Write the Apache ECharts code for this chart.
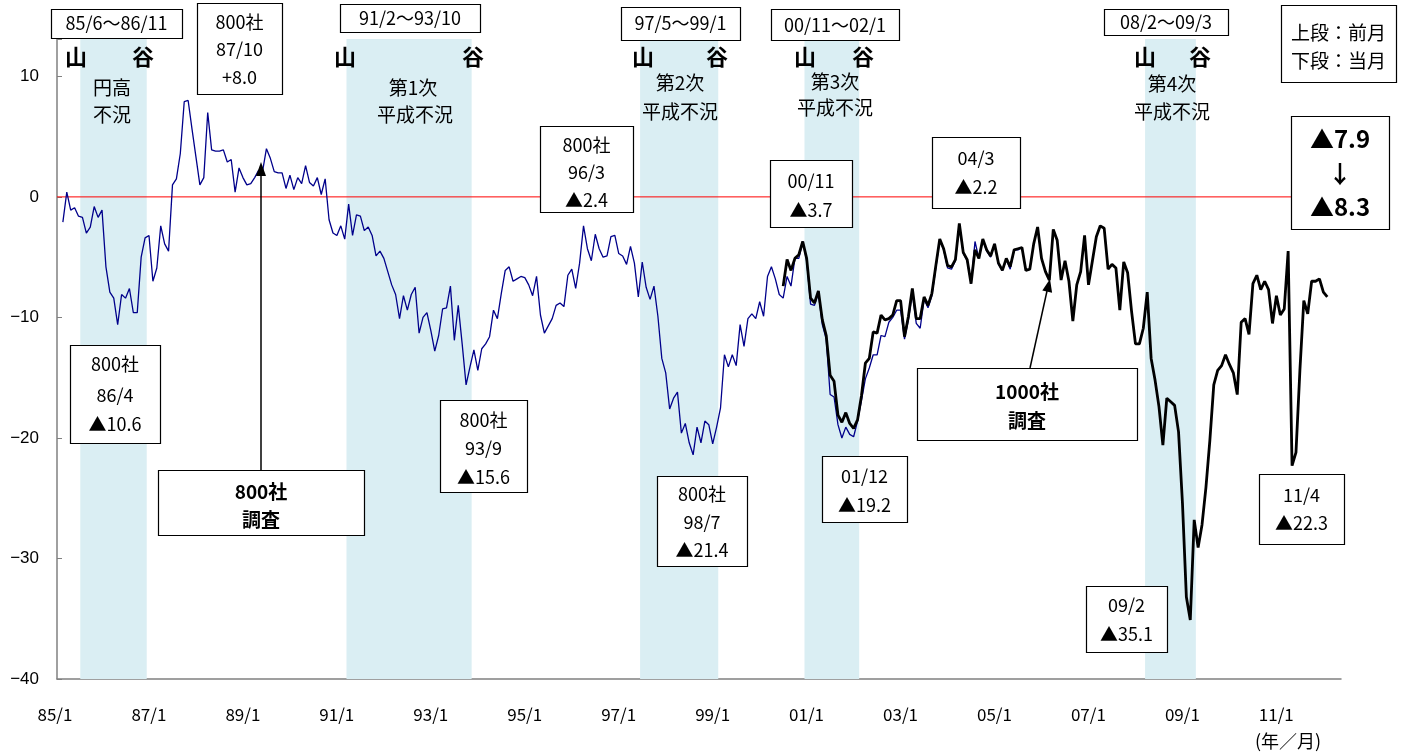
<!DOCTYPE html>
<html><head><meta charset="utf-8">
<script src="https://cdn.jsdelivr.net/npm/echarts@6/dist/echarts.min.js"></script>
<style>html,body{margin:0;padding:0;background:#fff}#c{width:1408px;height:753px}</style>
</head><body><div id="c"></div>
<script>
// ---- axis categories (monthly, 85/1 .. 12/4) ----
const firstYear = 1985;
const monthCount = 328;
const categories = [];
for (let i = 0; i < monthCount; i++) {
  categories.push(String((firstYear + Math.floor(i / 12)) % 100).padStart(2, '0') + '/' + (i % 12 + 1));
}
const yTickValues = [-40, -30, -20, -10, 0, 10];

// ---- 800社調査 (thin navy), from 85/2 ----
const survey800Start = '85/2';
const survey800 = [
  -2.1, 0.4, -1.1, -0.9, -1.6, -1.7, -3.0, -2.5, -0.8, -1.7, -1.1,           // 85/2-85/12
  -5.8, -7.9, -8.4, -10.6, -8.1, -8.4, -7.6, -9.6, -9.6, -5.0, -3.4, -3.2,   // 86
  -7.0, -5.9, -2.4, -3.9, -4.5, 1.0, 1.5, 3.6, 7.9, 8.0, 5.6, 3.3,           // 87
  1.0, 1.6, 7.0, 3.9, 3.8, 3.8, 3.9, 2.9, 3.1, 0.4, 2.4, 1.6,                // 88
  1.0, 1.1, 1.6, 2.2, 2.1, 4.0, 3.2, 2.1, 2.0, 2.0, 0.7, 1.8,                // 89
  0.6, 1.6, 1.1, 2.6, 1.2, 0.9, 1.6, 0.2, 1.5, -1.9, -3.0, -3.2,             // 90
  -2.4, -3.5, -0.6, -3.2, -1.5, -1.6, -2.8, -2.5, -3.2, -4.9, -4.5, -5.1,    // 91
  -6.2, -7.3, -8.1, -10.1, -8.2, -9.4, -8.1, -7.5, -11.3, -10.0, -9.6, -11.1,// 92
  -12.8, -11.5, -9.3, -9.2, -7.4, -11.9, -9.0, -12.2, -15.6, -14.1, -12.7, -14.4, // 93
  -12.6, -12.2, -11.6, -9.4, -10.1, -8.0, -6.1, -5.8, -7.0, -6.8, -6.6, -6.7,// 94
  -7.3, -8.2, -6.6, -9.8, -11.3, -10.7, -10.1, -9.0, -8.8, -9.1, -6.5, -6.0, // 95
  -7.6, -5.5, -2.4, -4.3, -5.3, -3.1, -4.3, -5.0, -4.9, -3.3, -3.2, -4.7,    // 96
  -4.9, -5.6, -4.1, -5.5, -8.3, -5.4, -7.5, -8.5, -7.4, -9.9, -13.4, -14.6,  // 97
  -17.6, -16.7, -16.2, -19.6, -18.8, -20.4, -21.4, -19.1, -20.4, -18.6, -18.9, -20.5, // 98
  -19.1, -17.5, -13.1, -14.1, -13.1, -14.0, -10.6, -12.4, -10.1, -9.7, -10.1, -8.7,  // 99
  -9.9, -6.6, -5.8, -6.8, -8.1, -8.4, -6.6, -7.4, -5.1, -5.1, -3.7, -5.3,    // 00
  -8.9, -9.0, -8.0, -10.6, -11.8, -16.4, -16.6, -18.9, -20.0, -19.1, -19.7, -19.9, // 01
  -18.6, -16.9, -15.1, -14.2, -13.1, -13.1, -11.5, -11.6, -10.4, -10.0, -9.4, -9.4, // 02
  -11.8, -10.2, -8.0, -10.5, -10.9, -8.5, -9.2, -8.2, -5.9, -3.6, -4.4, -5.9,// 03
  -6.0, -5.3, -2.3, -4.7, -5.3, -7.2, -3.7, -5.1, -3.6, -4.5, -5.0, -3.9,    // 04
  -5.6, -6.1, -5.2, -6.0, -4.4, -4.4, -4.2                                   // 05/1-05/7
];

// ---- 1000社調査 (thick black), from 00/6 ----
const survey1000Start = '00/6';
const survey1000 = [
  -7.4, -5.2, -6.1, -5.1, -4.8, -3.7, -5.1,                                  // 00/6-00/12
  -8.4, -8.8, -7.8, -10.2, -11.5, -14.8, -15.3, -18.1, -18.7, -17.9, -18.8, -19.2, // 01
  -18.5, -16.5, -13.8, -13.4, -11.2, -11.3, -9.8, -10.2, -10.1, -9.8, -8.6, -8.6,  // 02
  -11.6, -9.9, -7.6, -10.1, -10.1, -8.3, -9.0, -8.0, -5.7, -3.5, -4.3, -5.7, // 03
  -5.8, -5.2, -2.2, -4.6, -5.2, -7.2, -4.4, -5.1, -3.5, -4.4, -4.9, -3.9,    // 04
  -5.5, -6.1, -5.1, -5.8, -4.4, -4.3, -4.2, -6.1, -6.0, -3.9, -2.5, -5.1,    // 05
  -6.2, -6.9, -2.7, -3.6, -6.9, -5.3, -7.0, -10.3, -7.3, -6.2, -3.2, -7.3,   // 06
  -5.3, -3.3, -2.4, -2.6, -6.0, -5.6, -5.9, -9.4, -5.4, -6.3, -9.5, -12.2,   // 07
  -12.2, -10.9, -7.9, -13.4, -15.2, -17.4, -20.6, -16.7, -17.0, -17.3, -19.5, -25.4, // 08
  -33.2, -35.1, -26.8, -29.1, -27.2, -24.1, -20.2, -15.6, -14.4, -14.0, -13.1, -13.9, // 09
  -14.6, -16.4, -10.4, -10.1, -11.4, -7.2, -6.5, -7.7, -7.0, -7.7, -10.5, -8.2,     // 10
  -9.8, -9.3, -4.5, -22.3, -21.2, -14.4, -8.6, -9.7, -7.0, -7.0, -6.8, -7.9, // 11
  -8.3                                                                       // 12/1
];

// ---- recession periods (山 → 谷) ----
const recessionStart = ['85/6', '91/2', '97/5', '00/11', '08/2'];
const recessionEnd   = ['86/11', '93/10', '99/1', '02/1', '09/3'];

function toPairs(start, vals) {
  const s = categories.indexOf(start);
  return vals.map((v, k) => [s + k, v]);
}

const FONT = '"Noto Sans CJK JP", "Noto Sans", sans-serif';
const G = [];
function txt(x, y, s, size, bold) {
  G.push({ type: 'text', z: 100, silent: true,
    style: { x: x, y: y, text: s, align: 'center', verticalAlign: 'middle',
      font: (bold ? 'bold ' : '') + size + 'px ' + FONT, fill: '#000' } });
}
function box(x, y, w, h, lines, size, bold) {
  G.push({ type: 'rect', z: 99, silent: true, shape: { x: x + 0.5, y: y + 0.5, width: w, height: h },
    style: { fill: '#fff', stroke: '#000', lineWidth: 1.2 } });
  lines.forEach(l => txt(x + w / 2, l[1], l[0], size, bold));
}
// period boxes
box(51, 9, 131, 29, [['85/6～86/11', 23]], 18);
box(340, 4, 140, 28, [['91/2～93/10', 18]], 18);
box(621, 7, 119, 33, [['97/5～99/1', 23]], 18);
box(771, 9, 128, 31, [['00/11～02/1', 25]], 18);
box(1104, 9, 124, 26, [['08/2～09/3', 22]], 18);
// value boxes
box(197, 3, 85, 91, [['800社', 22], ['87/10', 49], ['+8.0', 77]], 18);
box(1281, 5, 115, 77, [['上段：前月', 33], ['下段：当月', 61]], 19);
box(1291, 116, 98, 113, [['▲7.9', 139], ['↓', 174], ['▲8.3', 207]], 24, true);
box(70, 345, 90, 98, [['800社', 364], ['86/4', 395], ['▲10.6', 424]], 18);
box(158, 470, 206, 65, [['800社', 492], ['調査', 520]], 19, true);
box(440, 400, 87, 92, [['800社', 420], ['93/9', 448], ['▲15.6', 477]], 18);
box(540, 126, 93, 86, [['800社', 145], ['96/3', 172], ['▲2.4', 200]], 18);
box(657, 476, 90, 90, [['800社', 494], ['98/7', 522], ['▲21.4', 550]], 18);
box(770, 160, 82, 67, [['00/11', 181], ['▲3.7', 210]], 18);
box(822, 456, 85, 66, [['01/12', 476], ['▲19.2', 505]], 18);
box(932, 137, 88, 71, [['04/3', 158], ['▲2.2', 187]], 18);
box(917, 368, 220, 72, [['1000社', 392], ['調査', 421]], 19, true);
box(1086, 586, 81, 66, [['09/2', 605], ['▲35.1', 634]], 18);
box(1259, 474, 85, 70, [['11/4', 495], ['▲22.3', 523]], 18);
// band labels
[[76, 143], [345, 473], [643, 717], [805, 863], [1145, 1200]].forEach(p => { txt(p[0], 57, '山', 22, true); txt(p[1], 57, '谷', 22, true); });
txt(112, 88, '円高', 19); txt(112, 115, '不況', 19);
txt(413, 88, '第1次', 19); txt(415, 115, '平成不況', 19);
txt(680, 83, '第2次', 19); txt(680, 112, '平成不況', 19);
txt(835, 82, '第3次', 19); txt(835, 108, '平成不況', 19);
txt(1172, 84, '第4次', 19); txt(1172, 112, '平成不況', 19);
txt(1288, 741, '(年／月)', 18);
// arrows
G.push({ type: 'line', z: 98, silent: true, shape: { x1: 261, y1: 470, x2: 261, y2: 175 }, style: { stroke: '#000', lineWidth: 1.5 } });
G.push({ type: 'polygon', z: 98, silent: true, shape: { points: [[261, 162], [256, 176], [266, 176]] }, style: { fill: '#000' } });
G.push({ type: 'line', z: 98, silent: true, shape: { x1: 1030, y1: 368, x2: 1047, y2: 291 }, style: { stroke: '#000', lineWidth: 1.5 } });
G.push({ type: 'polygon', z: 98, silent: true, shape: { points: [[1050, 279], [1052.1, 292.8], [1042.3, 290.6]] }, style: { fill: '#000' } });

const bandData = recessionStart.map((s, i) => [
  { xAxis: categories.indexOf(s) + 0.45 },
  { xAxis: categories.indexOf(recessionEnd[i]) + 0.42 }
]);
const zeroLine = [[-0.5, 0], [monthCount - 0.5, 0]];

const chart = echarts.init(document.getElementById('c'), null, { renderer: 'canvas' });
chart.setOption({
  animation: false,
  backgroundColor: '#fff',
  grid: { left: 57, right: 67, top: 39, bottom: 74 },
  xAxis: [{
    type: 'category', data: categories, boundaryGap: true,
    axisLine: { onZero: false, lineStyle: { color: '#808080', width: 1.5 } },
    axisTick: { show: false },
    axisLabel: { interval: (i) => i % 24 === 0, margin: 27, padding: [0, 8, 0, 0],
      fontFamily: FONT, fontSize: 17, color: '#000' },
    splitLine: { show: false }
  }, {
    type: 'value', min: -0.5, max: monthCount - 0.5, show: false, gridIndex: 0
  }],
  yAxis: {
    type: 'value', min: -40, max: 13.1, interval: 10,
    axisLine: { show: true, onZero: false, lineStyle: { color: '#808080', width: 1.5 } },
    axisTick: { show: true, inside: true, length: 5, lineStyle: { color: '#808080' } },
    splitLine: { show: false },
    axisLabel: { margin: 18, fontFamily: '"Liberation Sans", Arial, sans-serif', fontSize: 17, color: '#000',
      formatter: (v) => yTickValues.indexOf(v) >= 0 ? (v < 0 ? '\u2212' + (-v) : String(v)) : '' }
  },
  series: [{
    type: 'line', xAxisIndex: 1, data: [], z: 1, silent: true,
    markArea: { silent: true, itemStyle: { color: '#daeef3' }, data: bandData }
  }, {
    type: 'line', xAxisIndex: 1, data: zeroLine, z: 2, silent: true, showSymbol: false,
    lineStyle: { color: '#ff0000', width: 1 }, itemStyle: { color: '#ff0000' }
  }, {
    name: '800社調査', type: 'line', data: toPairs(survey800Start, survey800), z: 3,
    showSymbol: false, lineStyle: { color: '#00008b', width: 1.3 }
  }, {
    name: '1000社調査', type: 'line', data: toPairs(survey1000Start, survey1000), z: 4,
    showSymbol: false, lineStyle: { color: '#000', width: 2.8 }
  }],
  graphic: G
});
</script></body></html>
